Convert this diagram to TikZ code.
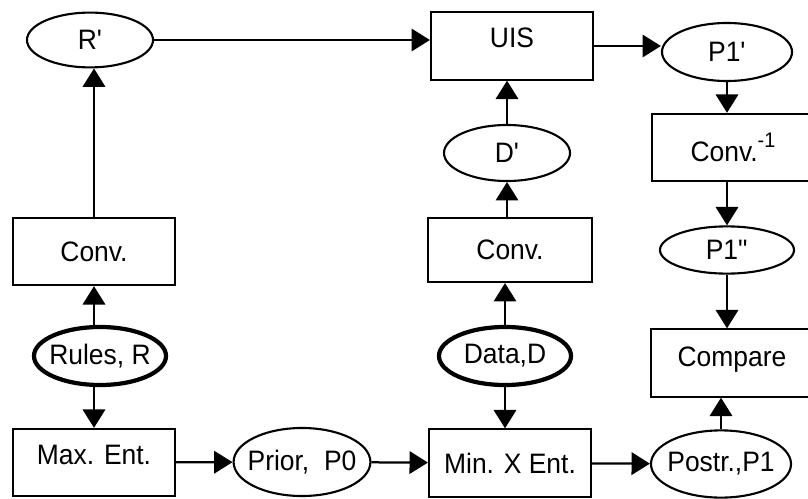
\documentclass[tikz,border=0pt]{standalone}
\usepackage{fontspec}
\setmainfont{Liberation Sans}[FakeStretch=0.94]
\usetikzlibrary{arrows.meta,shapes.geometric}

\begin{document}
\begin{tikzpicture}[
  x=0.025cm, y=-0.025cm,
  font=\fontsize{20}{23}\selectfont,
  blk/.style={draw, line width=1.5pt, minimum width=4.05cm, minimum height=1.68cm, inner sep=0pt},
  oval/.style={ellipse, draw, line width=1.5pt, inner sep=0pt,
    execute at begin node={\hbox to 0pt\bgroup\hss}, execute at end node={\hss\egroup}},
  heavy/.style={oval, line width=3pt},
  arr/.style={-{Triangle[length=4.6mm, width=5.6mm]}, line width=1.6pt},
]
  \useasboundingbox (0,0) rectangle (808,499);
  % left column
  \node[oval, minimum width=3.15cm, minimum height=1.37cm] (rp) at (90,40) {R\textquotesingle};
  \node[blk] (conv1) at (94,251.5) {Conv.\hspace{0.5cm}};
  \node[heavy, minimum width=3.3cm, minimum height=1.45cm] (rules) at (100,356) {Rules, R};
  \node[blk, text depth=0.4cm] (maxent) at (94,462.5) {Max. Ent.};
  \node[oval, minimum width=3.42cm, minimum height=1.7cm] (prior) at (302,462) {Prior,\ \ P0};
  % middle column
  \node[blk, text depth=0.4cm] (uis) at (512,46) {UIS};
  \node[oval, minimum width=3.15cm, minimum height=1.4cm] (dp) at (507,153) {D\textquotesingle};
  \node[blk, minimum width=4.1cm, minimum height=1.6cm] (conv2) at (510,250) {Conv.};
  \node[heavy, minimum width=3.3cm, minimum height=1.45cm] (data) at (505,356) {Data,D};
  \node[blk] (minx) at (510,463) {Min. X Ent.};
  % right column
  \node[oval, minimum width=3.25cm, minimum height=1.45cm] (p1p) at (727,52) {P1\textquotesingle};
  \node[blk] (convinv) at (733,147.5) {Conv.\raisebox{0.5em}{\fontsize{15}{15}\selectfont -1}};
  \node[oval, minimum width=3.35cm, minimum height=1.18cm] (p1pp) at (727,250) {P1\textquotedbl};
  \node[blk, text depth=0.3cm] (compare) at (732,363) {Compare};
  \node[oval, minimum width=3.5cm, minimum height=1.68cm] (postr) at (721,464) {Postr.,P1};
  % connectors
  \draw[arr] (rp.east) -- (rp.east -| uis.west);
  \draw[arr] (uis.east) -- (uis.east -| p1p.west);
  \draw[arr] (conv1.north) -- (conv1.north |- rp.south);
  \draw[arr] (rules.north -| conv1) -- (conv1.south);
  \draw[arr] (rules.south -| maxent) -- (maxent.north);
  \draw[arr] (maxent) -- (prior);
  \draw[arr] (prior) -- (minx);
  \draw[arr] (minx) -- (postr);
  \draw[arr] (data.north) -- (data.north |- conv2.south);
  \draw[arr] (data.south) -- (data.south |- minx.north);
  \draw[arr] (conv2.north -| dp) -- (dp.south);
  \draw[arr] (dp.north) -- (dp.north |- uis.south);
  \draw[arr] (p1p.south) -- (p1p.south |- convinv.north);
  \draw[arr] (convinv.south -| p1pp) -- (p1pp.north);
  \draw[arr] (p1pp.south) -- (p1pp.south |- compare.north);
  \draw[arr] (postr.north) -- (postr.north |- compare.south);
\end{tikzpicture}
\end{document}
